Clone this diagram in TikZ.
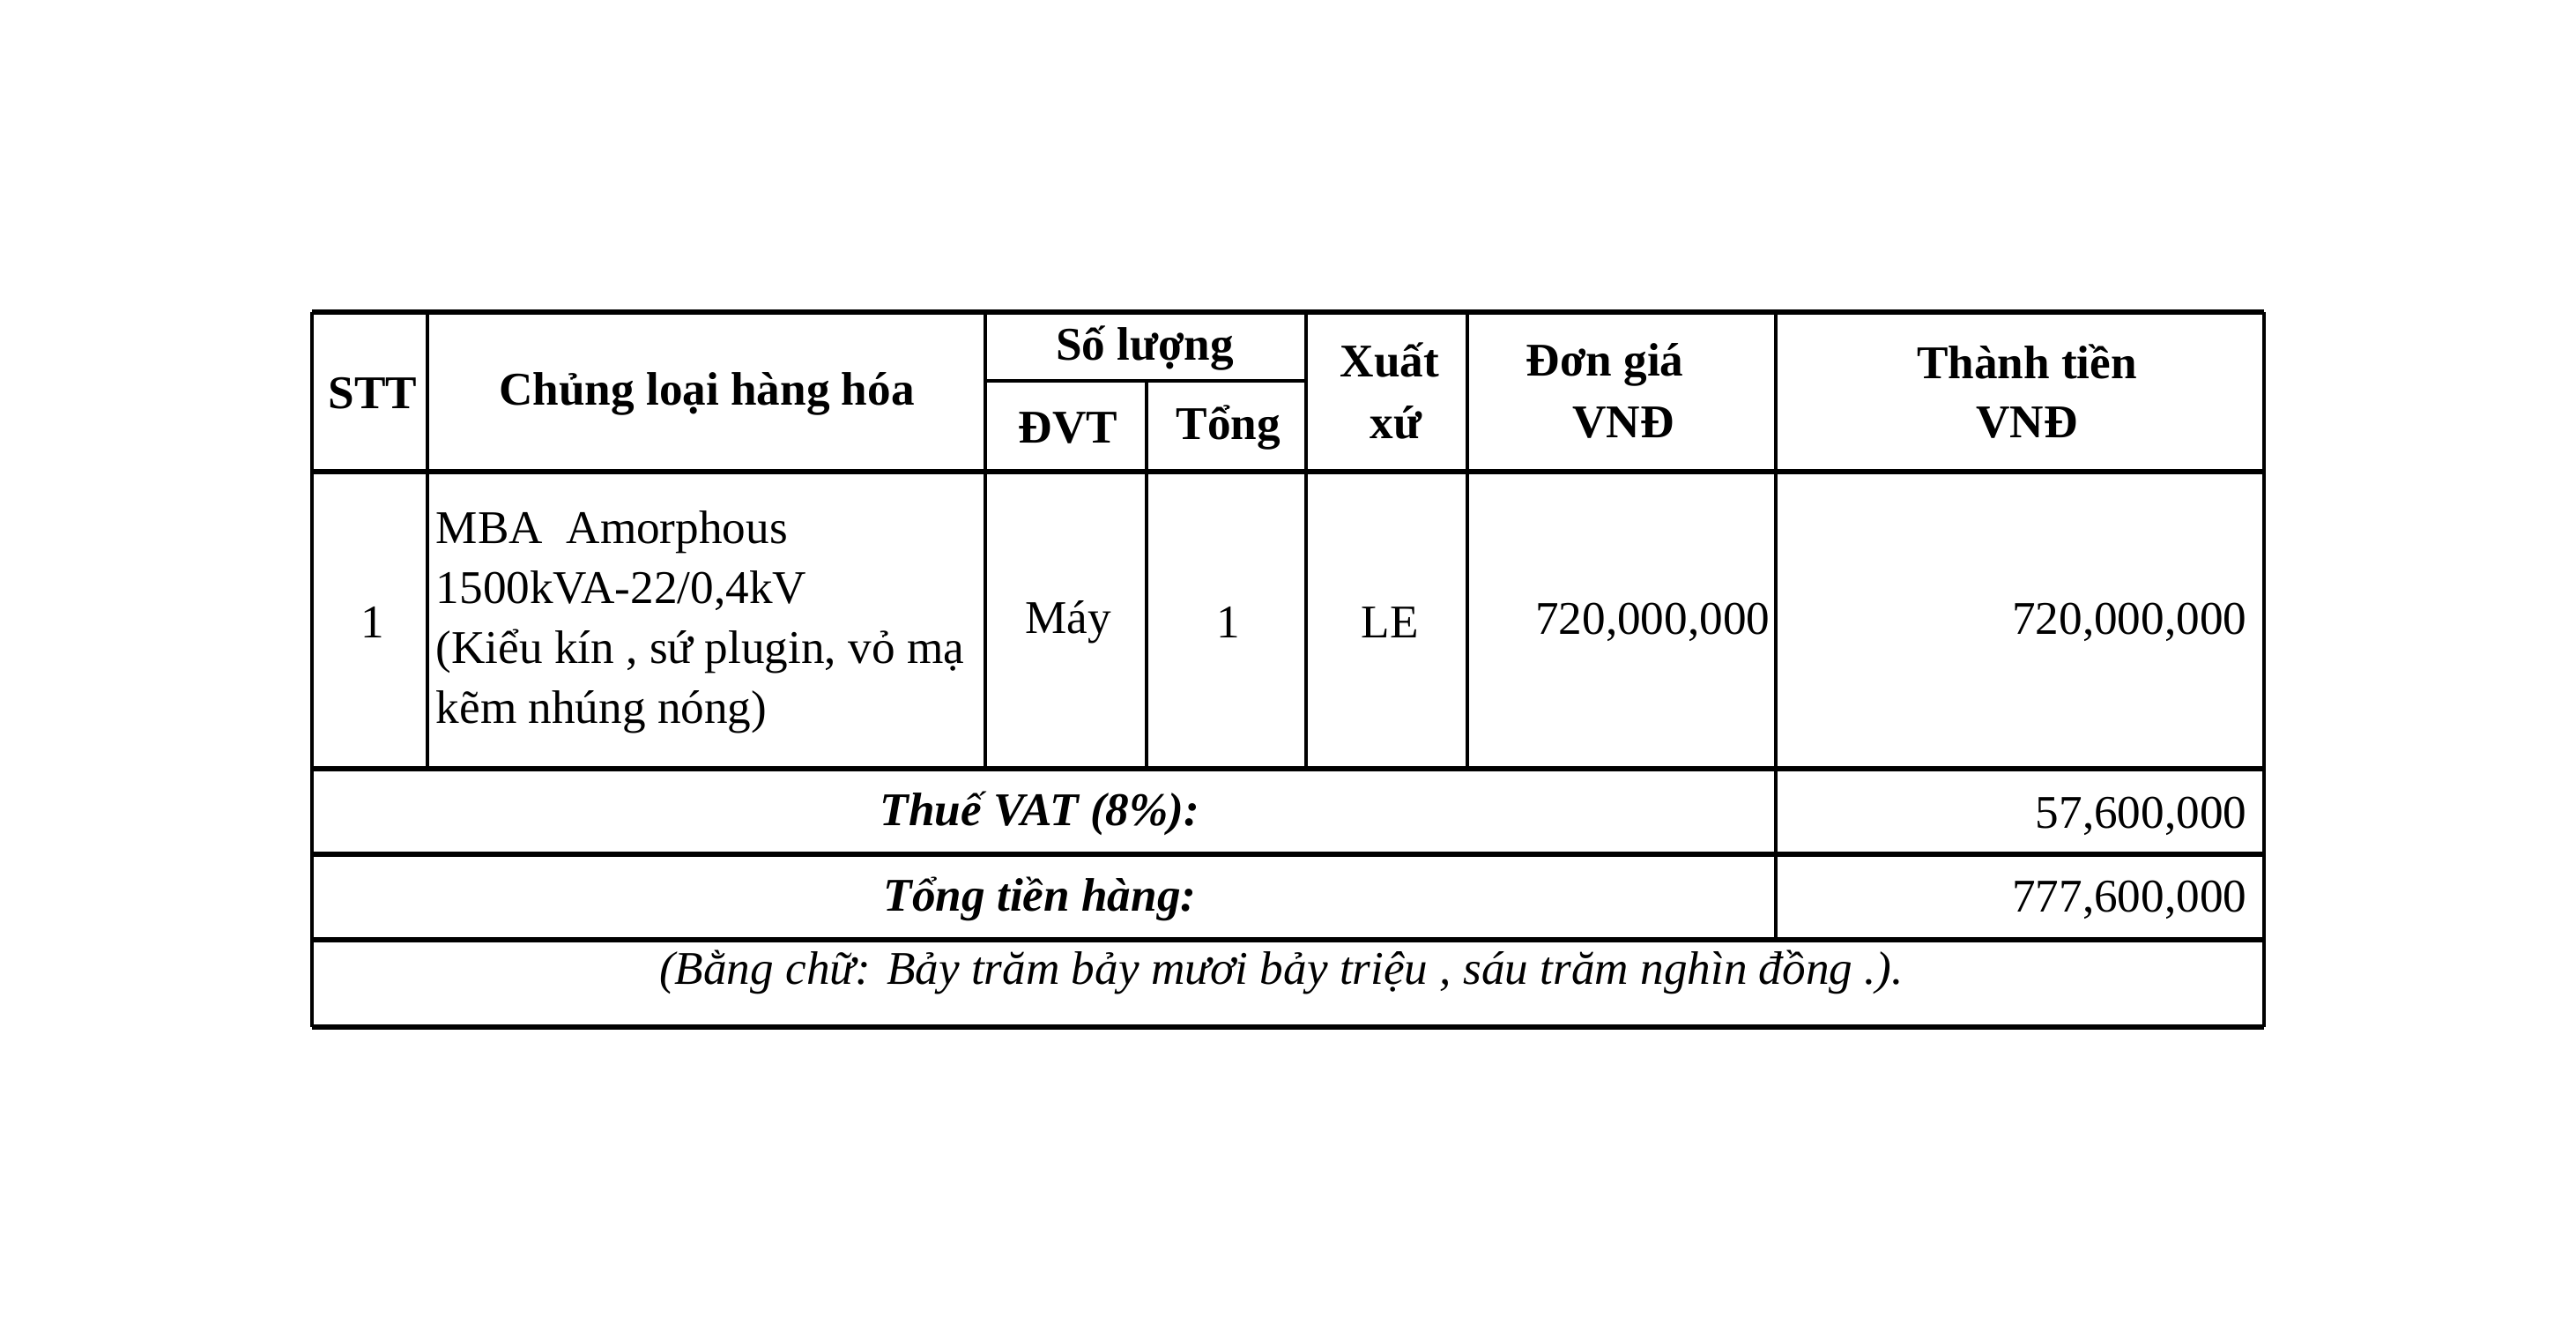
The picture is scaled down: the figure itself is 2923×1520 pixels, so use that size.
\documentclass[tikz,border=0pt]{standalone}
\usepackage{fontspec}
\setmainfont{Liberation Serif}
\usepackage{tikz}

\begin{document}
\begin{tikzpicture}[x=0.25pt, y=-0.25pt,
        cell/.style={inner sep=0pt, font=\fontsize{13.3}{17}\selectfont},
        head/.style={cell, font=\fontsize{13.3}{17}\selectfont\bfseries},
        sumtext/.style={cell, font=\fontsize{13.3}{17}\selectfont\bfseries\itshape},
        hline/.style={line width=1.4pt},
        vline/.style={line width=0.8pt}]
    \useasboundingbox[fill=white] (0,0) rectangle (2923,1520);

    % grid of the table
    \draw[hline] (354,354) -- (2569,354);
    \draw[hline] (354,535) -- (2569,535);
    \draw[hline] (354,872) -- (2569,872);
    \draw[hline] (354,969) -- (2569,969);
    \draw[hline] (354,1066) -- (2569,1066);
    \draw[hline] (354,1165) -- (2569,1165);
    \draw[vline] (1118,432) -- (1482,432);
    \draw[vline] (354,354) -- (354,1165);
    \draw[vline] (2569,354) -- (2569,1165);
    \draw[vline] (485,354) -- (485,872);
    \draw[vline] (1118,354) -- (1118,872);
    \draw[vline] (1301,432) -- (1301,872);
    \draw[vline] (1482,354) -- (1482,872);
    \draw[vline] (1665,354) -- (1665,872);
    \draw[vline] (2015,354) -- (2015,1066);

    % header
    \node[head] at (423,446)  (stt)   {STT};
    \node[head] at (802,447)  (loai)  {Chủng loại hàng hóa};
    \node[head] at (1299,395) (sl)    {Số lượng};
    \node[head] at (1212,485) (dvt)   {ĐVT};
    \node[head] at (1394,485) (tong)  {Tổng};
    \node[head] at (1577,408) (xuat)  {Xuất};
    \node[head] at (1584,479) (xu)    {xứ};
    \node[head] at (1821,414) (dg)    {Đơn giá};
    \node[head] at (1842,479) (dgvnd) {VNĐ};
    \node[head] at (2300,410) (tt)    {Thành tiền};
    \node[head] at (2300,479) (ttvnd) {VNĐ};

    % row 1
    \node[cell] at (423,706) (sttone) {1};
    \node[cell, anchor=west, align=left] at (494,706) (mba)
        {MBA\ \ Amorphous\\1500kVA-22/0,4kV\\(Kiểu kín , sứ plugin, vỏ mạ\\kẽm nhúng nóng)};
    \node[cell] at (1212,706) (may)   {Máy};
    \node[cell] at (1394,706) (slone) {1};
    \node[cell] at (1577,706) (le)    {LE};
    \node[cell, anchor=east] at (2009,706) (dgval) {720,000,000};
    \node[cell, anchor=east] at (2550,706) (ttval) {720,000,000};

    % totals
    \node[sumtext] at (1180,923)  (vat)    {Thuế VAT (8\%):};
    \node[cell, anchor=east] at (2550,926)  (vatval) {57,600,000};
    \node[sumtext] at (1180,1020) (total)  {Tổng tiền hàng:};
    \node[cell, anchor=east] at (2550,1021) (totval) {777,600,000};
    \node[cell, font=\fontsize{13.3}{17}\selectfont\itshape] at (1454,1103) (chu)
        {(Bằng chữ: Bảy trăm bảy mươi bảy triệu , sáu trăm nghìn đồng .).};
\end{tikzpicture}
\end{document}
